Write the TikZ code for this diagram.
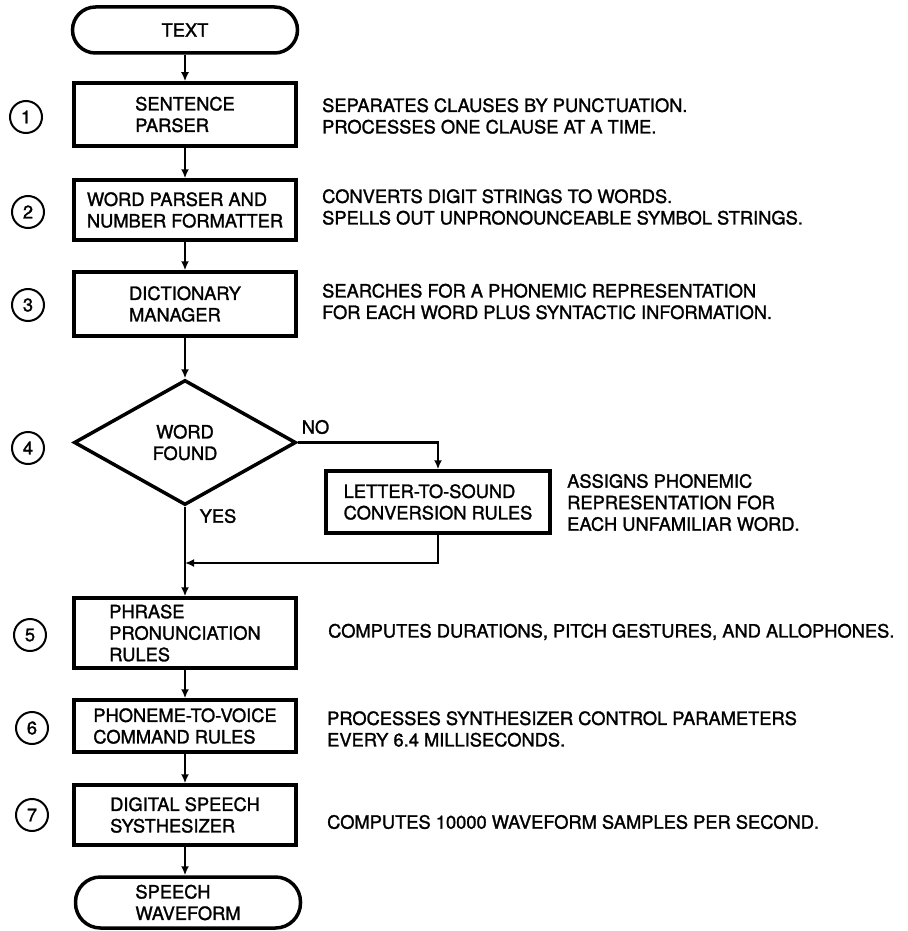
\documentclass[tikz,border=0pt]{standalone}
\usepackage{fontspec}
\setmainfont{TeX Gyre Heros}
\newfontfamily\medfont[FakeBold=1.4]{TeX Gyre Heros}
\usetikzlibrary{shapes.geometric,arrows.meta}
\begin{document}
\begin{tikzpicture}[x=1pt,y=-1pt,
  font=\medfont\fontsize{18.3pt}{21.5pt}\selectfont,
  box/.style={draw, line width=3.5pt, rectangle, inner sep=0pt, minimum width=222pt, align=left},
  term/.style={draw, line width=3.5pt, rectangle, inner sep=0pt, minimum width=225pt, align=left},
  num/.style={draw, circle, line width=2pt, minimum size=32pt, inner sep=0pt},
  desc/.style={anchor=west, inner sep=0pt, align=left},
  lbl/.style={inner sep=0pt},
  arr/.style={line width=2.6pt, -{Latex[length=9pt,width=8pt]}}]
\useasboundingbox[fill=white] (0,0) rectangle (907,931);

% main column
\node[term, rounded corners=23pt, minimum height=46pt, align=center] (text) at (185,30) {TEXT};
\node[box, minimum height=63pt] (box1) at (185,114.5) {SENTENCE\\PARSER};
\node[box, minimum height=60pt] (box2) at (185,210) {WORD PARSER AND\\NUMBER FORMATTER};
\node[box, minimum height=64pt] (box3) at (185,304) {DICTIONARY\\MANAGER};
\node[diamond, draw, line width=3.5pt, minimum width=222pt, minimum height=125pt,
      inner sep=0pt, aspect=1.776, align=center] (dia) at (185,442.5) {WORD\\FOUND};
\node[box, minimum height=70pt] (box5) at (185,633) {PHRASE\\PRONUNCIATION\\RULES};
\node[box, minimum height=52pt] (box6) at (185,726) {PHONEME-TO-VOICE\\COMMAND RULES};
\node[box, minimum height=60pt] (box7) at (185,815) {DIGITAL SPEECH\\SYSTHESIZER};
\node[term, rounded corners=25pt, minimum height=51pt] (speech) at (188,902.5) {SPEECH\\WAVEFORM};

% side branch
\node[box, minimum width=224pt, minimum height=62pt] (lts) at (438,502) {LETTER-TO-SOUND\\CONVERSION RULES};

% step numbers
\node[num] (n1) at (26,117) {1};
\node[num] (n2) at (28,212) {2};
\node[num] (n3) at (28,305) {3};
\node[num] (n4) at (28,448) {4};
\node[num] (n5) at (30,635) {5};
\node[num] (n6) at (32,728) {6};
\node[num] (n7) at (32,815) {7};

% labels
\node[lbl] (no) at (315.5,427) {NO};
\node[lbl] (yes) at (218,516) {YES};

% descriptions
\node[desc] (d1) at (322,116) {SEPARATES CLAUSES BY PUNCTUATION.\\PROCESSES ONE CLAUSE AT A TIME.};
\node[desc] (d2) at (322,207) {CONVERTS DIGIT STRINGS TO WORDS.\\SPELLS OUT UNPRONOUNCEABLE SYMBOL STRINGS.};
\node[desc] (d3) at (322,301.5) {SEARCHES FOR A PHONEMIC REPRESENTATION\\FOR EACH WORD PLUS SYNTACTIC INFORMATION.};
\node[desc] (d4) at (567,502.5) {ASSIGNS PHONEMIC\\REPRESENTATION FOR\\EACH UNFAMILIAR WORD.};
\node[desc] (d5) at (328,632) {COMPUTES DURATIONS, PITCH GESTURES, AND ALLOPHONES.};
\node[desc] (d6) at (327,729) {PROCESSES SYNTHESIZER CONTROL PARAMETERS\\EVERY 6.4 MILLISECONDS.};
\node[desc] (d7) at (327,822) {COMPUTES 10000 WAVEFORM SAMPLES PER SECOND.};

% connectors
\coordinate (join) at (185,563);
\draw[arr] (text.south) -- (box1.north);
\draw[arr] (box1.south) -- (box2.north);
\draw[arr] (box2.south) -- (box3.north);
\draw[arr] (box3.south) -- (dia.north);
\draw[arr] (dia.east) -| (lts.north);
\draw[arr] (lts.south) |- (join);
\draw[arr] (dia.south) -- (box5.north);
\draw[arr] (box5.south) -- (box6.north);
\draw[arr] (box6.south) -- (box7.north);
\draw[arr] (box7.south) -- (box7.south |- speech.north);
\end{tikzpicture}
\end{document}
